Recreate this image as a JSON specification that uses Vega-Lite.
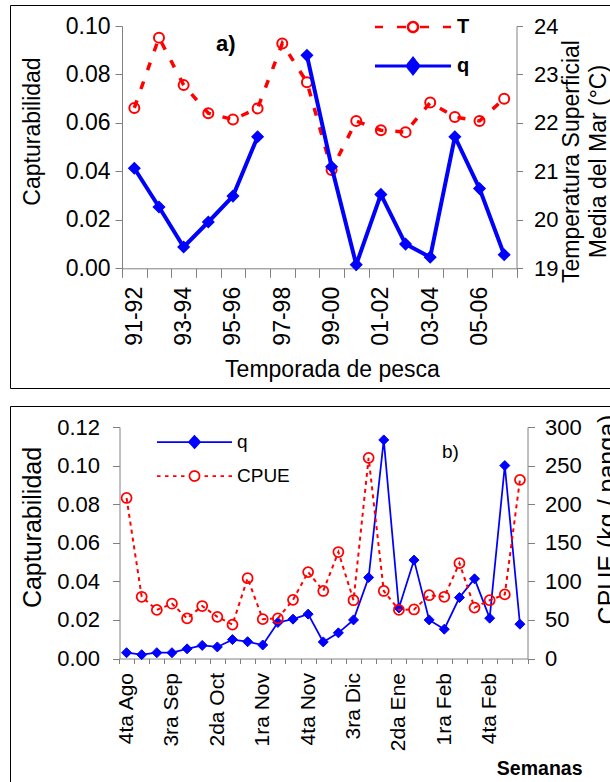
{
  "$schema": "https://vega.github.io/schema/vega-lite/v6.json",
  "background": "white",
  "padding": {"left": -2, "top": 4, "right": 0, "bottom": 0},
  "spacing": 16,
  "config": {
    "font": "Liberation Sans",
    "view": {"stroke": "#000000", "strokeWidth": 1},
    "axis": {"grid": false, "domainColor": "#808080", "tickColor": "#808080", "labelColor": "#000000", "titleColor": "#000000", "titleFontWeight": "normal", "labelOverlap": false}
  },
  "resolve": {"scale": {"color": "independent", "stroke": "independent"}, "legend": {"color": "independent", "stroke": "independent"}},
  "vconcat": [
    {
      "width": 602,
      "height": 383,
      "title": {"text": "a)", "anchor": "start", "frame": "group", "offset": 0, "dx": 206, "dy": 67.5, "baseline": "alphabetic", "fontSize": 22, "fontWeight": "bold", "color": "#000000"},
      "data": {"values": [
        {"season": "91-92", "q": 0.0413, "T": 22.31},
        {"season": "92-93", "q": 0.0253, "T": 23.76},
        {"season": "93-94", "q": 0.0088, "T": 22.78},
        {"season": "94-95", "q": 0.0191, "T": 22.20},
        {"season": "95-96", "q": 0.0298, "T": 22.07},
        {"season": "96-97", "q": 0.0543, "T": 22.30},
        {"season": "97-98", "q": null, "T": 23.64},
        {"season": "98-99", "q": 0.0879, "T": 22.84},
        {"season": "99-00", "q": 0.0419, "T": 21.03},
        {"season": "00-01", "q": 0.0015, "T": 22.04},
        {"season": "01-02", "q": 0.0305, "T": 21.85},
        {"season": "02-03", "q": 0.0100, "T": 21.81},
        {"season": "03-04", "q": 0.0046, "T": 22.42},
        {"season": "04-05", "q": 0.0543, "T": 22.12},
        {"season": "05-06", "q": 0.0329, "T": 22.04},
        {"season": "06-07", "q": 0.0056, "T": 22.50}
      ]},
      "layer": [
        {
          "layer": [
            {
              "mark": {"type": "line", "strokeWidth": 3.5, "strokeDash": [8, 12]},
              "encoding": {
                "x": {"field": "season", "type": "nominal", "sort": null,
                  "scale": {"type": "band", "range": [112, 506.5], "paddingInner": 0, "paddingOuter": 0},
                  "axis": {"orient": "bottom", "offset": -119.7, "tickBand": "extent", "tickSize": 9, "labelAngle": -90, "labelPadding": 9, "labelFontSize": 23,
                    "labelExpr": "indexof(['91-92','93-94','95-96','97-98','99-00','01-02','03-04','05-06'], datum.value) >= 0 ? datum.label : ''",
                    "title": "Temporada de pesca", "titleFontSize": 23, "titleX": 322, "titleY": 107.7, "titleAlign": "center", "titleBaseline": "alphabetic"}},
                "y": {"field": "T", "type": "quantitative",
                  "scale": {"domain": [19, 24], "range": [263.3, 21], "nice": false, "zero": false},
                  "axis": {"orient": "right", "offset": -95.5, "values": [19, 20, 21, 22, 23, 24], "format": "d", "tickSize": 6, "labelPadding": 11, "labelFontSize": 22,
                    "title": ["Temperatura Superficial", "Media del Mar (°C)"], "titleFontSize": 23, "titleAngle": 270, "titleX": 62, "titleY": 156, "titleAlign": "center", "titleBaseline": "alphabetic", "titleLineHeight": 27}},
                "color": {"datum": "T", "scale": {"domain": ["T"], "range": ["#FF0000"]},
                  "legend": {"orient": "none", "legendX": 391.5, "legendY": 10.5, "title": null, "padding": 0,
                    "symbolType": "M-3.8,0H-3.0M-1.6,0H-0.7M0.7,0H1.6M3.0,0H3.8M0.5,0A0.5,0.5,0,1,1,-0.5,0A0.5,0.5,0,1,1,0.5,0Z",
                    "symbolSize": 400, "symbolStrokeWidth": 2.5, "symbolStrokeColor": "#FF0000", "symbolFillColor": "transparent",
                    "labelFontSize": 20, "labelFontWeight": "bold", "labelOffset": 32.5, "labelColor": "#000000",
                    "encode": {"symbols": {"update": {
                      "shape": {"value": "M-3.8,0H-3.0M-1.6,0H-0.7M0.7,0H1.6M3.0,0H3.8M0.5,0A0.5,0.5,0,1,1,-0.5,0A0.5,0.5,0,1,1,0.5,0Z"},
                      "size": {"value": 400}, "stroke": {"value": "#FF0000"}, "fill": {"value": "transparent"},
                      "strokeWidth": {"value": 2.5}, "strokeDash": {"value": [1, 0]}, "opacity": {"value": 1}}}}}}
              }
            },
            {
              "mark": {"type": "point", "shape": "circle", "filled": false, "size": 100, "strokeWidth": 2, "opacity": 1},
              "encoding": {
                "x": {"field": "season", "type": "nominal", "sort": null,
                  "scale": {"type": "band", "range": [112, 506.5], "paddingInner": 0, "paddingOuter": 0}},
                "y": {"field": "T", "type": "quantitative",
                  "scale": {"domain": [19, 24], "range": [263.3, 21], "nice": false, "zero": false}},
                "color": {"datum": "T"}
              }
            }
          ]
        },
        {
          "layer": [
            {
              "mark": {"type": "line", "strokeWidth": 4, "invalid": "break-paths-show-domains"},
              "encoding": {
                "x": {"field": "season", "type": "nominal", "sort": null,
                  "scale": {"type": "band", "range": [112, 506.5], "paddingInner": 0, "paddingOuter": 0}},
                "y": {"field": "q", "type": "quantitative",
                  "scale": {"domain": [0, 0.1], "range": [263.3, 21], "nice": false},
                  "axis": {"orient": "left", "offset": -112, "values": [0, 0.02, 0.04, 0.06, 0.08, 0.1], "format": ".2f", "tickSize": 7, "labelPadding": 5, "labelFontSize": 23,
                    "title": "Capturabilidad", "titleFontSize": 23, "titleAngle": 270, "titleX": -90, "titleY": 126, "titleAlign": "center", "titleBaseline": "middle"}},
                "stroke": {"datum": "q", "scale": {"domain": ["q"], "range": ["#0000FF"]},
                  "legend": {"orient": "none", "legendX": 391.5, "legendY": 49.5, "title": null, "padding": 0,
                    "symbolType": "M-3.8,0H3.8M0,-0.75L0.6,0L0,0.75L-0.6,0Z",
                    "symbolSize": 400, "symbolStrokeWidth": 3, "symbolStrokeColor": "#0000FF", "symbolFillColor": "#0000FF",
                    "labelFontSize": 20, "labelFontWeight": "bold", "labelOffset": 32.5, "labelColor": "#000000",
                    "encode": {"symbols": {"update": {
                      "shape": {"value": "M-3.8,0H3.8M0,-0.75L0.6,0L0,0.75L-0.6,0Z"},
                      "size": {"value": 400}, "stroke": {"value": "#0000FF"}, "fill": {"value": "#0000FF"},
                      "strokeWidth": {"value": 3}, "strokeDash": {"value": [1, 0]}, "opacity": {"value": 1}}}}}}
              }
            },
            {
              "mark": {"type": "point", "shape": "diamond", "filled": true, "fill": "#0000FF", "size": 121, "strokeWidth": 1.5, "opacity": 1},
              "encoding": {
                "x": {"field": "season", "type": "nominal", "sort": null,
                  "scale": {"type": "band", "range": [112, 506.5], "paddingInner": 0, "paddingOuter": 0}},
                "y": {"field": "q", "type": "quantitative",
                  "scale": {"domain": [0, 0.1], "range": [263.3, 21], "nice": false}},
                "stroke": {"datum": "q"}
              }
            }
          ]
        }
      ],
      "resolve": {"scale": {"y": "independent"}}
    },
    {
      "width": 602,
      "height": 382,
      "title": {"text": "b)", "anchor": "start", "frame": "group", "offset": 0, "dx": 432, "dy": 70.5, "baseline": "alphabetic", "fontSize": 19, "fontWeight": "normal", "color": "#000000"},
      "data": {"values": [
        {"week": "4ta Ago", "q": 0.0030, "cpue": 208},
        {"week": "1ra Sep", "q": 0.0020, "cpue": 80},
        {"week": "2da Sep", "q": 0.0030, "cpue": 63},
        {"week": "3ra Sep", "q": 0.0030, "cpue": 71},
        {"week": "4ta Sep", "q": 0.0050, "cpue": 52},
        {"week": "1ra Oct", "q": 0.0068, "cpue": 68},
        {"week": "2da Oct", "q": 0.0060, "cpue": 54},
        {"week": "3ra Oct", "q": 0.0098, "cpue": 44},
        {"week": "4ta Oct", "q": 0.0087, "cpue": 104},
        {"week": "1ra Nov", "q": 0.0070, "cpue": 51},
        {"week": "2da Nov", "q": 0.0187, "cpue": 52},
        {"week": "3ra Nov", "q": 0.0204, "cpue": 76},
        {"week": "4ta Nov", "q": 0.0230, "cpue": 112},
        {"week": "1ra Dic", "q": 0.0086, "cpue": 87.5},
        {"week": "2da Dic", "q": 0.0133, "cpue": 138},
        {"week": "3ra Dic", "q": 0.0200, "cpue": 75.5},
        {"week": "4ta Dic", "q": 0.0420, "cpue": 260},
        {"week": "1ra Ene", "q": 0.1133, "cpue": 87.5},
        {"week": "2da Ene", "q": 0.0262, "cpue": 63},
        {"week": "3ra Ene", "q": 0.0510, "cpue": 63.5},
        {"week": "4ta Ene", "q": 0.0200, "cpue": 82},
        {"week": "1ra Feb", "q": 0.0152, "cpue": 80},
        {"week": "2da Feb", "q": 0.0316, "cpue": 123.5},
        {"week": "3ra Feb", "q": 0.0413, "cpue": 66},
        {"week": "4ta Feb", "q": 0.0209, "cpue": 75.5},
        {"week": "1ra Mar", "q": 0.1000, "cpue": 83},
        {"week": "2da Mar", "q": 0.0178, "cpue": 231.5}
      ]},
      "layer": [
        {
          "layer": [
            {
              "mark": {"type": "line", "strokeWidth": 1.75},
              "encoding": {
                "x": {"field": "week", "type": "nominal", "sort": null,
                  "scale": {"type": "band", "range": [109, 517.5], "paddingInner": 0, "paddingOuter": 0},
                  "axis": {"orient": "bottom", "offset": -129.5, "tickBand": "extent", "tickSize": 5, "labelAngle": -90, "labelPadding": 9, "labelFontSize": 21,
                    "labelExpr": "indexof(['4ta Ago','3ra Sep','2da Oct','1ra Nov','4ta Nov','3ra Dic','2da Ene','1ra Feb','4ta Feb'], datum.value) >= 0 ? datum.label : ''",
                    "title": "Semanas", "titleFontSize": 19.5, "titleFontWeight": "bold", "titleX": 572, "titleY": 115.5, "titleAlign": "right", "titleBaseline": "alphabetic"}},
                "y": {"field": "q", "type": "quantitative",
                  "scale": {"domain": [0, 0.12], "range": [252.5, 21], "nice": false},
                  "axis": {"orient": "left", "offset": -109.5, "values": [0, 0.02, 0.04, 0.06, 0.08, 0.1, 0.12], "format": ".2f", "tickSize": 7, "labelPadding": 13, "labelFontSize": 22,
                    "title": "Capturabilidad", "titleFontSize": 25, "titleAngle": 270, "titleX": -87.5, "titleY": 121, "titleAlign": "center", "titleBaseline": "middle"}},
                "stroke": {"datum": "q", "scale": {"domain": ["q"], "range": ["#0000FF"]},
                  "legend": {"orient": "none", "legendX": 173.5, "legendY": 25, "title": null, "padding": 0,
                    "symbolType": "M-3.75,0H3.75M0,-0.6L0.55,0L0,0.6L-0.55,0Z",
                    "symbolSize": 400, "symbolStrokeWidth": 1.75, "symbolStrokeColor": "#0000FF", "symbolFillColor": "#0000FF",
                    "labelFontSize": 19, "labelOffset": 31.5, "labelColor": "#000000",
                    "encode": {"symbols": {"update": {
                      "shape": {"value": "M-3.75,0H3.75M0,-0.6L0.55,0L0,0.6L-0.55,0Z"},
                      "size": {"value": 400}, "stroke": {"value": "#0000FF"}, "fill": {"value": "#0000FF"},
                      "strokeWidth": {"value": 1.75}, "strokeDash": {"value": [1, 0]}, "opacity": {"value": 1}}}}}}
              }
            },
            {
              "mark": {"type": "point", "shape": "diamond", "filled": true, "fill": "#0000FF", "size": 100, "strokeWidth": 1, "opacity": 1},
              "encoding": {
                "x": {"field": "week", "type": "nominal", "sort": null,
                  "scale": {"type": "band", "range": [109, 517.5], "paddingInner": 0, "paddingOuter": 0}},
                "y": {"field": "q", "type": "quantitative",
                  "scale": {"domain": [0, 0.12], "range": [252.5, 21], "nice": false}},
                "stroke": {"datum": "q"}
              }
            }
          ]
        },
        {
          "layer": [
            {
              "mark": {"type": "line", "strokeWidth": 2, "strokeDash": [4, 4]},
              "encoding": {
                "x": {"field": "week", "type": "nominal", "sort": null,
                  "scale": {"type": "band", "range": [109, 517.5], "paddingInner": 0, "paddingOuter": 0}},
                "y": {"field": "cpue", "type": "quantitative",
                  "scale": {"domain": [0, 300], "range": [252.5, 21], "nice": false},
                  "axis": {"orient": "right", "offset": -84.5, "values": [0, 50, 100, 150, 200, 250, 300], "format": "d", "tickSize": 7, "labelPadding": 10, "labelFontSize": 22,
                    "title": "CPUE (kg / panga)", "titleFontSize": 25, "titleAngle": 270, "titleX": 87.5, "titleY": 113, "titleAlign": "center", "titleBaseline": "alphabetic"}},
                "color": {"datum": "CPUE", "scale": {"domain": ["CPUE"], "range": ["#FF0000"]},
                  "legend": {"orient": "none", "legendX": 173.5, "legendY": 59, "title": null, "padding": 0,
                    "symbolType": "M-3.75,0H-3.4M-2.95,0H-2.6M-2.15,0H-1.8M-1.35,0H-1.0M1.0,0H1.35M1.8,0H2.15M2.6,0H2.95M3.4,0H3.75M0.5,0A0.5,0.5,0,1,1,-0.5,0A0.5,0.5,0,1,1,0.5,0Z",
                    "symbolSize": 400, "symbolStrokeWidth": 1.75, "symbolStrokeColor": "#FF0000", "symbolFillColor": "transparent",
                    "labelFontSize": 19, "labelOffset": 31.5, "labelColor": "#000000",
                    "encode": {"symbols": {"update": {
                      "shape": {"value": "M-3.75,0H-3.4M-2.95,0H-2.6M-2.15,0H-1.8M-1.35,0H-1.0M1.0,0H1.35M1.8,0H2.15M2.6,0H2.95M3.4,0H3.75M0.5,0A0.5,0.5,0,1,1,-0.5,0A0.5,0.5,0,1,1,0.5,0Z"},
                      "size": {"value": 400}, "stroke": {"value": "#FF0000"}, "fill": {"value": "transparent"},
                      "strokeWidth": {"value": 1.75}, "strokeDash": {"value": [1, 0]}, "opacity": {"value": 1}}}}}}
              }
            },
            {
              "mark": {"type": "point", "shape": "circle", "filled": false, "size": 100, "strokeWidth": 1.75, "opacity": 1},
              "encoding": {
                "x": {"field": "week", "type": "nominal", "sort": null,
                  "scale": {"type": "band", "range": [109, 517.5], "paddingInner": 0, "paddingOuter": 0}},
                "y": {"field": "cpue", "type": "quantitative",
                  "scale": {"domain": [0, 300], "range": [252.5, 21], "nice": false}},
                "color": {"datum": "CPUE"}
              }
            }
          ]
        }
      ],
      "resolve": {"scale": {"y": "independent"}}
    }
  ]
}
